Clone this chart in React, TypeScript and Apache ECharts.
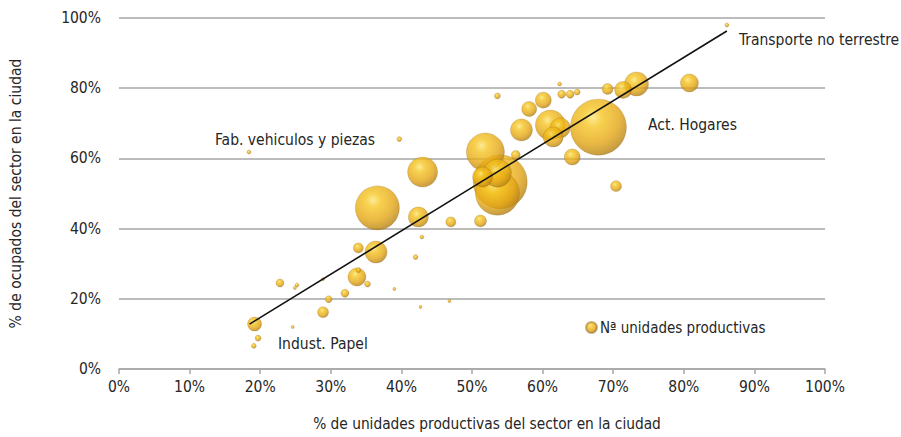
import React, { useEffect, useRef } from "react";
import * as echarts from "echarts";

// % de unidades productivas del sector en la ciudad
const xPct = [86.1, 18.4, 39.7, 53.6, 62.4, 62.7, 63.9, 64.9, 69.2, 71.4, 73.3, 80.8, 60.1, 58.1, 57.0, 61.1, 62.5, 61.5, 67.9, 64.2, 70.4, 51.9, 56.2, 53.6, 51.5, 54.0, 53.6, 43.0, 36.6, 42.4, 47.0, 51.2, 42.9, 42.0, 36.4, 33.9, 19.2, 19.7, 19.1, 22.8, 25.2, 24.9, 24.6, 28.9, 28.9, 29.7, 32.0, 33.7, 33.9, 35.2, 39.0, 42.7, 46.8];
// % de ocupados del sector en la ciudad
const yPct = [98.0, 61.8, 65.5, 77.8, 81.2, 78.3, 78.3, 78.9, 79.8, 79.5, 81.2, 81.5, 76.6, 74.1, 68.1, 69.5, 68.7, 66.1, 68.9, 60.4, 52.1, 61.8, 61.0, 55.8, 54.7, 53.3, 50.1, 56.1, 45.9, 43.3, 41.9, 42.2, 37.6, 31.9, 33.3, 34.5, 12.8, 8.8, 6.6, 24.5, 23.9, 23.1, 12.0, 25.6, 16.2, 19.9, 21.6, 26.2, 28.2, 24.2, 22.8, 17.7, 19.4];
// Nª unidades productivas (bubble size)
const unidades = [40, 40, 60, 90, 40, 160, 160, 90, 300, 720, 1440, 810, 640, 560, 1210, 2250, 1000, 1000, 7840, 640, 300, 3610, 200, 1960, 1000, 7290, 4840, 2250, 4840, 1000, 250, 360, 40, 60, 1210, 250, 490, 90, 60, 160, 40, 25, 25, 25, 300, 120, 160, 810, 60, 90, 25, 25, 25];

// Trend line endpoints
const trendX = [18.5, 86.1];
const trendY = [12.8, 96.3];

const xTicks = [0, 10, 20, 30, 40, 50, 60, 70, 80, 90, 100];
const yTicks = [0, 20, 40, 60, 80, 100];

const seriesName = "Nª unidades productivas";
const annotations = [
  { text: "Transporte no terrestre", x: 739, y: 42 },
  { text: "Act. Hogares", x: 648, y: 127 },
  { text: "Fab. vehiculos y piezas", x: 215, y: 142 },
  { text: "Indust. Papel", x: 278, y: 346 },
];

const FONT = "'DejaVu Sans Condensed', 'Liberation Sans Narrow', 'Roboto', sans-serif";
const TXT = "#262626";

export default function App() {
  const ref = useRef<HTMLDivElement>(null);
  useEffect(() => {
    if (!ref.current) return;
    const chart = echarts.init(ref.current, null, { renderer: "svg" });
    const pts = xPct.map((x, i) => [x, yPct[i], unidades[i]]);
    pts.sort((a, b) => b[2] - a[2]);
    const gold = {
      type: "radial",
      x: 0.4,
      y: 0.33,
      r: 0.75,
      colorStops: [
        { offset: 0, color: "#fbe67e" },
        { offset: 0.22, color: "#f6c624" },
        { offset: 0.62, color: "#e4a614" },
        { offset: 0.88, color: "#bb8614" },
        { offset: 1, color: "#8e6612" },
      ],
    };
    chart.setOption({
      animation: false,
      textStyle: { fontFamily: FONT },
      grid: { left: 118, right: 76, top: 18, bottom: 68 },
      legend: {
        data: [seriesName],
        left: 580,
        top: 315,
        icon: "circle",
        itemWidth: 11,
        itemHeight: 11,
        itemGap: 4,
        textStyle: { fontFamily: FONT, fontSize: 15, color: TXT, padding: [0, 0, 0, -2] },
      },
      xAxis: {
        type: "value",
        min: 0,
        max: 100,
        interval: 10,
        name: "% de unidades productivas del sector en la ciudad",
        nameLocation: "middle",
        nameGap: 47,
        nameTextStyle: { fontFamily: FONT, fontSize: 15.3, color: TXT, padding: [0, 0, 0, 30] },
        axisLine: { show: true, lineStyle: { color: "#a6a6a6", width: 1.5 } },
        axisTick: { show: true, length: 5, lineStyle: { color: "#a6a6a6", width: 1.5 } },
        splitLine: { show: false },
        axisLabel: {
          margin: 10,
          fontSize: 15.5,
          color: TXT,
          fontFamily: FONT,
          formatter: (v: number) => (xTicks.includes(v) ? v + "%" : ""),
        },
      },
      yAxis: {
        type: "value",
        min: 0,
        max: 100,
        interval: 20,
        name: "% de ocupados del sector en la ciudad",
        nameLocation: "middle",
        nameGap: 95,
        nameTextStyle: { fontFamily: FONT, fontSize: 15.5, color: TXT },
        axisLine: { show: false },
        axisTick: { show: false },
        splitLine: { show: true, lineStyle: { color: "#a6a6a6", width: 1.5 } },
        axisLabel: {
          margin: 18,
          fontSize: 15.5,
          color: TXT,
          fontFamily: FONT,
          formatter: (v: number) => (yTicks.includes(v) ? v + "%" : ""),
        },
      },
      series: [
        {
          name: seriesName,
          type: "scatter",
          data: pts,
          symbolSize: (d: number[]) => 2 * Math.sqrt(d[2] / 10),
          itemStyle: {
            color: gold as any,
            borderColor: "rgba(130,90,20,0.5)",
            borderWidth: 0.5,
          },
          z: 2,
        },
        {
          name: "Tendencia",
          type: "line",
          data: trendX.map((x, i) => [x, trendY[i]]),
          symbol: "none",
          lineStyle: { color: "#111", width: 1.6 },
          z: 3,
        },
      ],
      graphic: annotations.map((a) => ({
        type: "text",
        left: a.x,
        top: a.y - 10,
        style: { text: a.text, fontFamily: FONT, fontSize: 15.5, fill: TXT },
        z: 10,
      })),
    });
    return () => chart.dispose();
  }, []);
  return <div ref={ref} style={{ width: 901, height: 437, position: "absolute", left: 0, top: 0 }} />;
}
